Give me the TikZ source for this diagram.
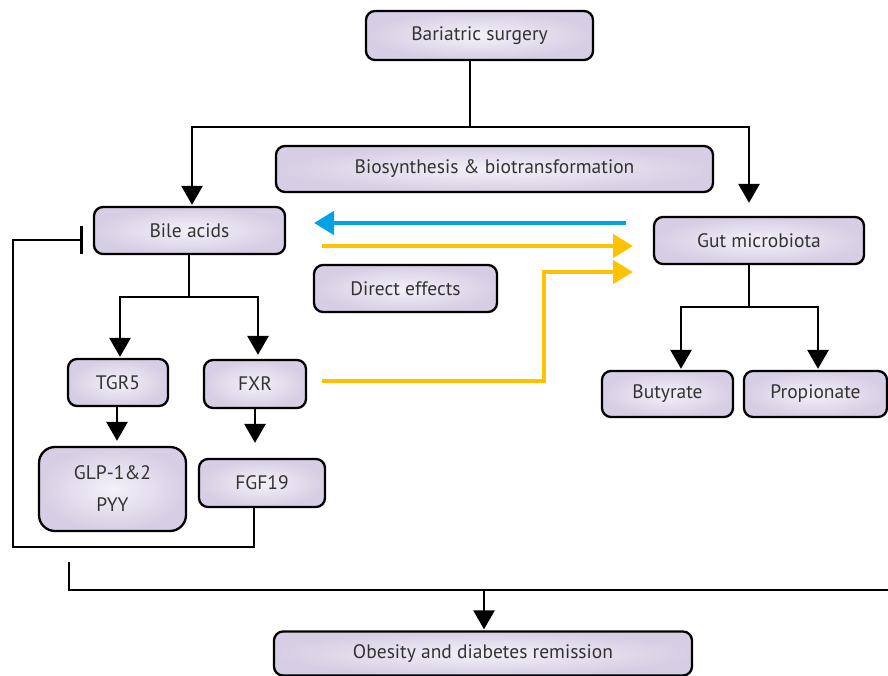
\documentclass[tikz,border=0pt]{standalone}
\usepackage{fontspec}
\setmainfont{PT Sans}
\usetikzlibrary{arrows.meta}
\definecolor{boxout}{HTML}{D6CEE4}
\definecolor{boxin}{HTML}{F4F1F9}
\definecolor{txt}{HTML}{333333}
\definecolor{myblue}{HTML}{00A3E3}
\definecolor{myyellow}{HTML}{FDC300}
\begin{document}
\begin{tikzpicture}[x=1pt,y=-1pt,
  box/.style={draw=black,line width=2.3pt,rounded corners=9pt,inner color=boxin,outer color=boxout,
    text=txt,font=\fontsize{19.5}{22}\selectfont,align=center,inner sep=0pt},
  conn/.style={line width=2.8pt,draw=black},
  tip/.style={-{Triangle[width=21pt,length=19pt]}},
  ctip/.style={-{Triangle[width=23pt,length=20pt]}},
  blu/.style={line width=4.5pt,draw=myblue,ctip},
  yel/.style={line width=4.5pt,draw=myyellow,ctip},
]
\useasboundingbox (0,0) rectangle (888,676);
\node[box,minimum width=227pt,minimum height=49pt] (bs) at (479.5,35.5) {Bariatric surgery};
\node[box,minimum width=437pt,minimum height=46pt] (bio) at (494.5,169) {Biosynthesis \& biotransformation};
\node[box,minimum width=191pt,minimum height=47pt] (bile) at (189.5,230.5) {Bile acids};
\node[box,minimum width=210pt,minimum height=47pt] (gut) at (759,240.5) {Gut microbiota};
\node[box,minimum width=183pt,minimum height=47pt] (direct) at (405.5,288.5) {Direct effects};
\node[box,minimum width=100pt,minimum height=47pt] (tgr) at (118,382.5) {TGR5};
\node[box,minimum width=102pt,minimum height=48pt] (fxr) at (255,384) {FXR};
\node[box,minimum width=147pt,minimum height=84pt,rounded corners=16pt] (glp) at (112.5,489) {GLP-1\&2\\[10pt]PYY};
\node[box,minimum width=126pt,minimum height=48pt] (fgf) at (262,483) {FGF19};
\node[box,minimum width=131pt,minimum height=46pt] (but) at (667.5,394) {Butyrate};
\node[box,minimum width=143pt,minimum height=46pt] (prop) at (815.5,394) {Propionate};
\node[box,minimum width=418pt,minimum height=44pt] (obe) at (483,653.5) {Obesity and diabetes remission};

% top split
\coordinate (t1) at (470,127);
\draw[conn] (bs.south -| t1) -- (t1);
\draw[conn,tip,shorten >=1pt] (t1) -| (bile.north -| 192,0);
\draw[conn,tip,shorten >=13pt] (t1) -| (gut.north -| 749,0);

% bile acids split
\coordinate (b1) at (189,297);
\draw[conn] (bile.south -| b1) -- (b1);
\draw[conn,tip,shorten >=1pt] (b1) -| (tgr.north -| 120,0);
\draw[conn,tip,shorten >=4pt] (b1) -| (fxr.north -| 258,0);
\draw[conn,tip,shorten >=5pt] (tgr.south -| 117,0) -- (glp.north -| 117,0);
\draw[conn,tip,shorten >=15pt] (fxr.south -| 255,0) -- (fgf.north -| 255,0);

% feedback inhibition
\coordinate (fb1) at (254,547);
\coordinate (fb2) at (13,547);
\coordinate (fb3) at (13,240);
\draw[conn,-{Bar[width=28pt,line width=2.8pt]},shorten >=10pt] (fgf.south -| fb1) -- (fb1) -- (fb2) -- (fb3) -- (bile.west |- fb3);

% gut split
\coordinate (g1) at (749,307);
\draw[conn] (gut.south -| g1) -- (g1);
\draw[conn,tip,shorten >=1pt] (g1) -| (but.north -| 681,0);
\draw[conn,tip,shorten >=1pt] (g1) -| (prop.north -| 818,0);

% coloured arrows
\coordinate (c1) at (626,223);
\coordinate (c2) at (314,223);
\draw[blu] (c1) -- (c2);
\coordinate (c3) at (322,246);
\coordinate (c4) at (633,246);
\draw[yel] (c3) -- (c4);
\coordinate (c5) at (322,381);
\coordinate (c6) at (544,272);
\coordinate (c7) at (633,272);
\draw[yel] (c5) -| (c6) -- (c7);

% bottom
\coordinate (o1) at (69,562);
\coordinate (o2) at (69,590);
\coordinate (o3) at (888,590);
\coordinate (o4) at (484,590);
\draw[conn] (o1) -- (o2) -- (o3);
\draw[conn,tip,shorten >=1pt] (o4) -- (obe.north -| o4);
\end{tikzpicture}
\end{document}
